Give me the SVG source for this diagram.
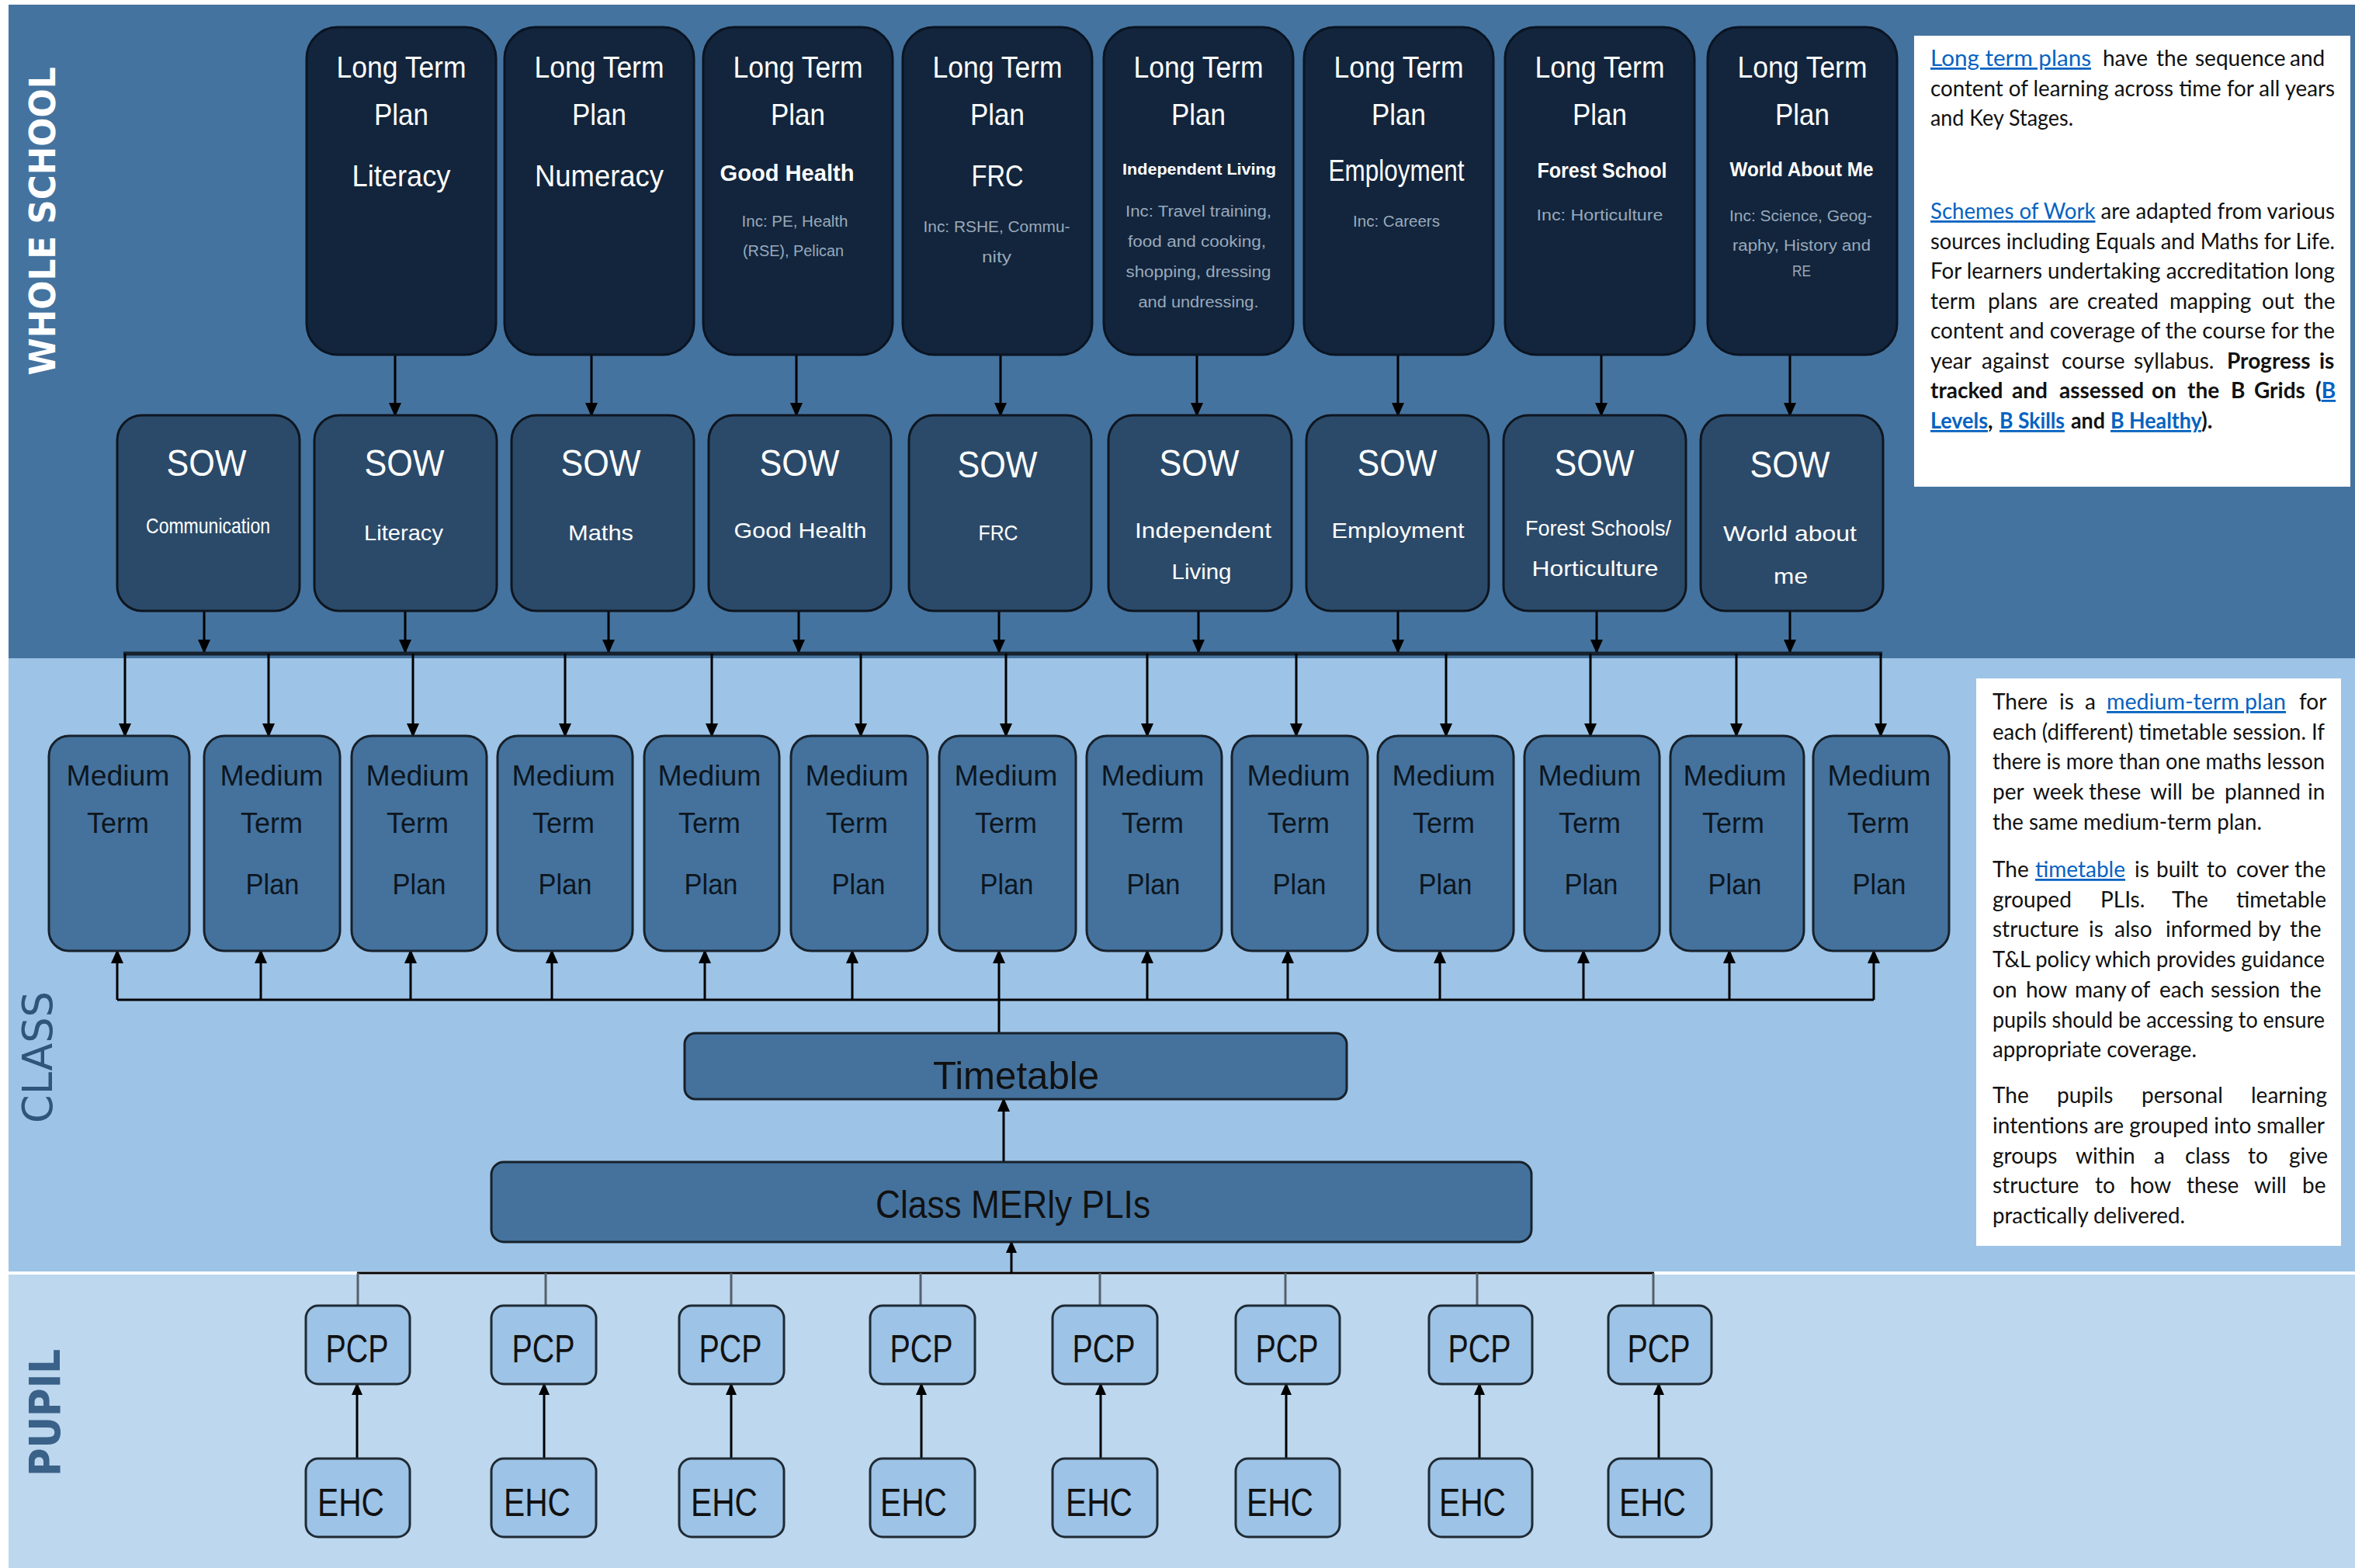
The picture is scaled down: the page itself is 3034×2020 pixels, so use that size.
<svg xmlns="http://www.w3.org/2000/svg" width="3034" height="2020" viewBox="0 0 3034 2020">
<defs>
<style>
text{font-family:"Liberation Sans",Arial,sans-serif}
.ltp rect{fill:#12253c;stroke:#0a1422;stroke-width:3}
.sow rect{fill:#2b4a69;stroke:#0e1620;stroke-width:3}
.mtp rect{fill:#44729d;stroke:#17212b;stroke-width:3}
.bar rect{fill:#44729d;stroke:#17212b;stroke-width:3}
.pp rect{fill:#9dc3e6;stroke:#1f2a33;stroke-width:3}
.h{font-size:39px;fill:#fff;text-anchor:middle}
.hb{font-weight:bold;fill:#fff;text-anchor:middle}
.inc{font-size:20px;fill:#9aa9bb;text-anchor:middle}
.sw{font-size:48px;fill:#fff;text-anchor:middle}
.ss{font-size:28px;fill:#fff;text-anchor:middle}
.mt{font-size:36px;fill:#0d1620;text-anchor:middle}
.big{font-size:50px;fill:#111;text-anchor:middle}
.p{font-family:Lato,"Liberation Sans",sans-serif;font-size:28px;fill:#111}
.lk{fill:#0563c1;text-decoration:underline}
.b{font-weight:bold}
.c line{stroke:#000;stroke-width:3}
.c .g{stroke:#55606a}
.c .bus{stroke:#15212d;stroke-width:5}
</style>
<marker id="ah" viewBox="0 0 18 16" refX="16" refY="8" markerWidth="18" markerHeight="16" markerUnits="userSpaceOnUse" orient="auto"><path d="M0,0 L18,8 L0,16 z" fill="#000"/></marker>
<marker id="as" viewBox="0 0 16 14" refX="14" refY="7" markerWidth="16" markerHeight="14" markerUnits="userSpaceOnUse" orient="auto"><path d="M0,0 L16,7 L0,14 z" fill="#000"/></marker>
</defs>

<rect x="0" y="0" width="3034" height="2020" fill="#fff"/>
<rect x="11" y="6" width="3023" height="842" fill="#45739f"/>
<rect x="11" y="848" width="3023" height="790" fill="#9dc3e6"/>
<rect x="11" y="1642" width="3023" height="378" fill="#bdd7ee"/>

<text transform="translate(71,285) rotate(-90)" text-anchor="middle" style="font-family:'DejaVu Sans',sans-serif" font-weight="bold" font-size="47" fill="#fff" textLength="397" lengthAdjust="spacingAndGlyphs">WHOLE SCHOOL</text>
<text transform="translate(67,1362) rotate(-90)" text-anchor="middle" style="font-family:'DejaVu Sans',sans-serif" font-size="53" fill="#2e557a" textLength="170" lengthAdjust="spacingAndGlyphs">CLASS</text>
<text transform="translate(77,1820) rotate(-90)" text-anchor="middle" style="font-family:'DejaVu Sans',sans-serif" font-weight="bold" font-size="56" fill="#3a6188" textLength="164" lengthAdjust="spacingAndGlyphs">PUPIL</text>

<g id="connectors" class="c">
<line x1="509" y1="457" x2="509" y2="535" marker-end="url(#ah)"/>
<line x1="762" y1="457" x2="762" y2="535" marker-end="url(#ah)"/>
<line x1="1026" y1="457" x2="1026" y2="535" marker-end="url(#ah)"/>
<line x1="1289" y1="457" x2="1289" y2="535" marker-end="url(#ah)"/>
<line x1="1542" y1="457" x2="1542" y2="535" marker-end="url(#ah)"/>
<line x1="1801" y1="457" x2="1801" y2="535" marker-end="url(#ah)"/>
<line x1="2063" y1="457" x2="2063" y2="535" marker-end="url(#ah)"/>
<line x1="2306" y1="457" x2="2306" y2="535" marker-end="url(#ah)"/>
<line x1="263" y1="787" x2="263" y2="840" marker-end="url(#ah)"/>
<line x1="522" y1="787" x2="522" y2="840" marker-end="url(#ah)"/>
<line x1="784" y1="787" x2="784" y2="840" marker-end="url(#ah)"/>
<line x1="1029" y1="787" x2="1029" y2="840" marker-end="url(#ah)"/>
<line x1="1287" y1="787" x2="1287" y2="840" marker-end="url(#ah)"/>
<line x1="1544" y1="787" x2="1544" y2="840" marker-end="url(#ah)"/>
<line x1="1801" y1="787" x2="1801" y2="840" marker-end="url(#ah)"/>
<line x1="2057" y1="787" x2="2057" y2="840" marker-end="url(#ah)"/>
<line x1="2306" y1="787" x2="2306" y2="840" marker-end="url(#ah)"/>
<line class="bus" x1="159" y1="842" x2="2425" y2="842"/>
<line x1="161" y1="842" x2="161" y2="948" marker-end="url(#ah)"/>
<line x1="346" y1="842" x2="346" y2="948" marker-end="url(#ah)"/>
<line x1="532" y1="842" x2="532" y2="948" marker-end="url(#ah)"/>
<line x1="728" y1="842" x2="728" y2="948" marker-end="url(#ah)"/>
<line x1="917" y1="842" x2="917" y2="948" marker-end="url(#ah)"/>
<line x1="1109" y1="842" x2="1109" y2="948" marker-end="url(#ah)"/>
<line x1="1296" y1="842" x2="1296" y2="948" marker-end="url(#ah)"/>
<line x1="1478" y1="842" x2="1478" y2="948" marker-end="url(#ah)"/>
<line x1="1670" y1="842" x2="1670" y2="948" marker-end="url(#ah)"/>
<line x1="1863" y1="842" x2="1863" y2="948" marker-end="url(#ah)"/>
<line x1="2049" y1="842" x2="2049" y2="948" marker-end="url(#ah)"/>
<line x1="2237" y1="842" x2="2237" y2="948" marker-end="url(#ah)"/>
<line x1="2423" y1="842" x2="2423" y2="948" marker-end="url(#ah)"/>
<line x1="151" y1="1288" x2="2414" y2="1288"/>
<line x1="151" y1="1288" x2="151" y2="1225" marker-end="url(#ah)"/>
<line x1="336" y1="1288" x2="336" y2="1225" marker-end="url(#ah)"/>
<line x1="529" y1="1288" x2="529" y2="1225" marker-end="url(#ah)"/>
<line x1="711" y1="1288" x2="711" y2="1225" marker-end="url(#ah)"/>
<line x1="908" y1="1288" x2="908" y2="1225" marker-end="url(#ah)"/>
<line x1="1098" y1="1288" x2="1098" y2="1225" marker-end="url(#ah)"/>
<line x1="1287" y1="1331" x2="1287" y2="1225" marker-end="url(#ah)"/>
<line x1="1478" y1="1288" x2="1478" y2="1225" marker-end="url(#ah)"/>
<line x1="1659" y1="1288" x2="1659" y2="1225" marker-end="url(#ah)"/>
<line x1="1855" y1="1288" x2="1855" y2="1225" marker-end="url(#ah)"/>
<line x1="2040" y1="1288" x2="2040" y2="1225" marker-end="url(#ah)"/>
<line x1="2228" y1="1288" x2="2228" y2="1225" marker-end="url(#ah)"/>
<line x1="2414" y1="1288" x2="2414" y2="1225" marker-end="url(#ah)"/>
<line x1="1293" y1="1497" x2="1293" y2="1416" marker-end="url(#ah)"/>
<line x1="460" y1="1640" x2="2131" y2="1640"/>
<line x1="1303" y1="1640" x2="1303" y2="1600" marker-end="url(#as)"/>
<line class="g" x1="461" y1="1640" x2="461" y2="1682"/>
<line class="g" x1="703" y1="1640" x2="703" y2="1682"/>
<line class="g" x1="942" y1="1640" x2="942" y2="1682"/>
<line class="g" x1="1186" y1="1640" x2="1186" y2="1682"/>
<line class="g" x1="1417" y1="1640" x2="1417" y2="1682"/>
<line class="g" x1="1656" y1="1640" x2="1656" y2="1682"/>
<line class="g" x1="1903" y1="1640" x2="1903" y2="1682"/>
<line class="g" x1="2130" y1="1640" x2="2130" y2="1682"/>
<line x1="460" y1="1879" x2="460" y2="1783" marker-end="url(#as)"/>
<line x1="701" y1="1879" x2="701" y2="1783" marker-end="url(#as)"/>
<line x1="942" y1="1879" x2="942" y2="1783" marker-end="url(#as)"/>
<line x1="1187" y1="1879" x2="1187" y2="1783" marker-end="url(#as)"/>
<line x1="1418" y1="1879" x2="1418" y2="1783" marker-end="url(#as)"/>
<line x1="1657" y1="1879" x2="1657" y2="1783" marker-end="url(#as)"/>
<line x1="1906" y1="1879" x2="1906" y2="1783" marker-end="url(#as)"/>
<line x1="2137" y1="1879" x2="2137" y2="1783" marker-end="url(#as)"/>
</g>

<g id="ltp-literacy" class="ltp"><rect x="395" y="35" width="244" height="422" rx="40"/>
<text class="h" x="517" y="100" textLength="167" lengthAdjust="spacingAndGlyphs">Long Term</text>
<text class="h" x="517" y="161" textLength="70" lengthAdjust="spacingAndGlyphs">Plan</text>
<text class="h" x="517" y="240" textLength="127" lengthAdjust="spacingAndGlyphs">Literacy</text></g>
<g id="ltp-numeracy" class="ltp"><rect x="650" y="35" width="244" height="422" rx="40"/>
<text class="h" x="772" y="100" textLength="167" lengthAdjust="spacingAndGlyphs">Long Term</text>
<text class="h" x="772" y="161" textLength="70" lengthAdjust="spacingAndGlyphs">Plan</text>
<text class="h" x="772" y="240" textLength="166" lengthAdjust="spacingAndGlyphs">Numeracy</text></g>
<g id="ltp-goodhealth" class="ltp"><rect x="906" y="35" width="244" height="422" rx="40"/>
<text class="h" x="1028" y="100" textLength="167" lengthAdjust="spacingAndGlyphs">Long Term</text>
<text class="h" x="1028" y="161" textLength="70" lengthAdjust="spacingAndGlyphs">Plan</text>
<text class="hb" font-size="29" x="1014" y="233" textLength="173" lengthAdjust="spacingAndGlyphs">Good Health</text>
<text class="inc" x="1024" y="292" textLength="137" lengthAdjust="spacingAndGlyphs">Inc: PE, Health</text>
<text class="inc" x="1022" y="330" textLength="130" lengthAdjust="spacingAndGlyphs">(RSE), Pelican</text></g>
<g id="ltp-frc" class="ltp"><rect x="1163" y="35" width="244" height="422" rx="40"/>
<text class="h" x="1285" y="100" textLength="167" lengthAdjust="spacingAndGlyphs">Long Term</text>
<text class="h" x="1285" y="161" textLength="70" lengthAdjust="spacingAndGlyphs">Plan</text>
<text class="h" x="1285" y="240" textLength="67" lengthAdjust="spacingAndGlyphs">FRC</text>
<text class="inc" x="1284" y="299" textLength="189" lengthAdjust="spacingAndGlyphs">Inc: RSHE, Commu-</text>
<text class="inc" x="1284" y="338" textLength="38" lengthAdjust="spacingAndGlyphs">nity</text></g>
<g id="ltp-independent" class="ltp"><rect x="1422" y="35" width="244" height="422" rx="40"/>
<text class="h" x="1544" y="100" textLength="167" lengthAdjust="spacingAndGlyphs">Long Term</text>
<text class="h" x="1544" y="161" textLength="70" lengthAdjust="spacingAndGlyphs">Plan</text>
<text class="hb" font-size="21" x="1545" y="225" textLength="198" lengthAdjust="spacingAndGlyphs">Independent Living</text>
<text class="inc" x="1544" y="279" textLength="188" lengthAdjust="spacingAndGlyphs">Inc: Travel training,</text>
<text class="inc" x="1542" y="318" textLength="178" lengthAdjust="spacingAndGlyphs">food and cooking,</text>
<text class="inc" x="1544" y="357" textLength="187" lengthAdjust="spacingAndGlyphs">shopping, dressing</text>
<text class="inc" x="1544" y="396" textLength="155" lengthAdjust="spacingAndGlyphs">and undressing.</text></g>
<g id="ltp-employment" class="ltp"><rect x="1680" y="35" width="244" height="422" rx="40"/>
<text class="h" x="1802" y="100" textLength="167" lengthAdjust="spacingAndGlyphs">Long Term</text>
<text class="h" x="1802" y="161" textLength="70" lengthAdjust="spacingAndGlyphs">Plan</text>
<text class="h" font-size="30" x="1799" y="233" textLength="175" lengthAdjust="spacingAndGlyphs">Employment</text>
<text class="inc" x="1799" y="292" textLength="112" lengthAdjust="spacingAndGlyphs">Inc: Careers</text></g>
<g id="ltp-forest" class="ltp"><rect x="1939" y="35" width="244" height="422" rx="40"/>
<text class="h" x="2061" y="100" textLength="167" lengthAdjust="spacingAndGlyphs">Long Term</text>
<text class="h" x="2061" y="161" textLength="70" lengthAdjust="spacingAndGlyphs">Plan</text>
<text class="hb" font-size="27" x="2064" y="229" textLength="167" lengthAdjust="spacingAndGlyphs">Forest School</text>
<text class="inc" x="2061" y="284" textLength="163" lengthAdjust="spacingAndGlyphs">Inc: Horticulture</text></g>
<g id="ltp-world" class="ltp"><rect x="2200" y="35" width="244" height="422" rx="40"/>
<text class="h" x="2322" y="100" textLength="167" lengthAdjust="spacingAndGlyphs">Long Term</text>
<text class="h" x="2322" y="161" textLength="70" lengthAdjust="spacingAndGlyphs">Plan</text>
<text class="hb" font-size="26" x="2321" y="227" textLength="185" lengthAdjust="spacingAndGlyphs">World About Me</text>
<text class="inc" x="2320" y="285" textLength="184" lengthAdjust="spacingAndGlyphs">Inc: Science, Geog-</text>
<text class="inc" x="2321" y="323" textLength="178" lengthAdjust="spacingAndGlyphs">raphy, History and</text>
<text class="inc" x="2321" y="356" textLength="24" lengthAdjust="spacingAndGlyphs">RE</text></g>

<g id="sow-communication" class="sow"><rect x="151" y="535" width="235" height="252" rx="32"/>
<text class="sw" x="266" y="613" textLength="103" lengthAdjust="spacingAndGlyphs">SOW</text>
<text class="ss" font-size="17" x="268" y="687" textLength="160" lengthAdjust="spacingAndGlyphs">Communication</text></g>
<g id="sow-literacy" class="sow"><rect x="405" y="535" width="235" height="252" rx="32"/>
<text class="sw" x="521" y="613" textLength="103" lengthAdjust="spacingAndGlyphs">SOW</text>
<text class="ss" x="520" y="696" textLength="102" lengthAdjust="spacingAndGlyphs">Literacy</text></g>
<g id="sow-maths" class="sow"><rect x="659" y="535" width="235" height="252" rx="32"/>
<text class="sw" x="774" y="613" textLength="103" lengthAdjust="spacingAndGlyphs">SOW</text>
<text class="ss" x="774" y="696" textLength="84" lengthAdjust="spacingAndGlyphs">Maths</text></g>
<g id="sow-goodhealth" class="sow"><rect x="913" y="535" width="235" height="252" rx="32"/>
<text class="sw" x="1030" y="613" textLength="103" lengthAdjust="spacingAndGlyphs">SOW</text>
<text class="ss" x="1031" y="693" textLength="171" lengthAdjust="spacingAndGlyphs">Good Health</text></g>
<g id="sow-frc" class="sow"><rect x="1171" y="535" width="235" height="252" rx="32"/>
<text class="sw" x="1285" y="615" textLength="103" lengthAdjust="spacingAndGlyphs">SOW</text>
<text class="ss" font-size="24" x="1286" y="696" textLength="51" lengthAdjust="spacingAndGlyphs">FRC</text></g>
<g id="sow-independent" class="sow"><rect x="1428" y="535" width="236" height="252" rx="32"/>
<text class="sw" x="1545" y="613" textLength="103" lengthAdjust="spacingAndGlyphs">SOW</text>
<text class="ss" x="1550" y="693" textLength="176" lengthAdjust="spacingAndGlyphs">Independent</text>
<text class="ss" x="1548" y="746" textLength="77" lengthAdjust="spacingAndGlyphs">Living</text></g>
<g id="sow-employment" class="sow"><rect x="1683" y="535" width="235" height="252" rx="32"/>
<text class="sw" x="1800" y="613" textLength="103" lengthAdjust="spacingAndGlyphs">SOW</text>
<text class="ss" x="1801" y="693" textLength="171" lengthAdjust="spacingAndGlyphs">Employment</text></g>
<g id="sow-forest" class="sow"><rect x="1937" y="535" width="235" height="252" rx="32"/>
<text class="sw" x="2054" y="613" textLength="103" lengthAdjust="spacingAndGlyphs">SOW</text>
<text class="ss" font-size="26" x="2059" y="690" textLength="188" lengthAdjust="spacingAndGlyphs">Forest Schools/</text>
<text class="ss" x="2055" y="742" textLength="163" lengthAdjust="spacingAndGlyphs">Horticulture</text></g>
<g id="sow-world" class="sow"><rect x="2191" y="535" width="235" height="252" rx="32"/>
<text class="sw" x="2306" y="615" textLength="103" lengthAdjust="spacingAndGlyphs">SOW</text>
<text class="ss" x="2306" y="697" textLength="172" lengthAdjust="spacingAndGlyphs">World about</text>
<text class="ss" x="2307" y="752" textLength="44" lengthAdjust="spacingAndGlyphs">me</text></g>

<g id="mtp-1" class="mtp"><rect x="63" y="948" width="181" height="277" rx="26"/>
<text class="mt" x="152" y="1012" textLength="133" lengthAdjust="spacingAndGlyphs">Medium</text>
<text class="mt" x="152" y="1073" textLength="80" lengthAdjust="spacingAndGlyphs">Term</text></g>
<g id="mtp-2" class="mtp"><rect x="263" y="948" width="175" height="277" rx="26"/>
<text class="mt" x="350" y="1012" textLength="133" lengthAdjust="spacingAndGlyphs">Medium</text>
<text class="mt" x="350" y="1073" textLength="80" lengthAdjust="spacingAndGlyphs">Term</text>
<text class="mt" x="351" y="1152" textLength="69" lengthAdjust="spacingAndGlyphs">Plan</text></g>
<g id="mtp-3" class="mtp"><rect x="453" y="948" width="174" height="277" rx="26"/>
<text class="mt" x="538" y="1012" textLength="133" lengthAdjust="spacingAndGlyphs">Medium</text>
<text class="mt" x="538" y="1073" textLength="80" lengthAdjust="spacingAndGlyphs">Term</text>
<text class="mt" x="540" y="1152" textLength="69" lengthAdjust="spacingAndGlyphs">Plan</text></g>
<g id="mtp-4" class="mtp"><rect x="641" y="948" width="174" height="277" rx="26"/>
<text class="mt" x="726" y="1012" textLength="133" lengthAdjust="spacingAndGlyphs">Medium</text>
<text class="mt" x="726" y="1073" textLength="80" lengthAdjust="spacingAndGlyphs">Term</text>
<text class="mt" x="728" y="1152" textLength="69" lengthAdjust="spacingAndGlyphs">Plan</text></g>
<g id="mtp-5" class="mtp"><rect x="830" y="948" width="174" height="277" rx="26"/>
<text class="mt" x="914" y="1012" textLength="133" lengthAdjust="spacingAndGlyphs">Medium</text>
<text class="mt" x="914" y="1073" textLength="80" lengthAdjust="spacingAndGlyphs">Term</text>
<text class="mt" x="916" y="1152" textLength="69" lengthAdjust="spacingAndGlyphs">Plan</text></g>
<g id="mtp-6" class="mtp"><rect x="1019" y="948" width="176" height="277" rx="26"/>
<text class="mt" x="1104" y="1012" textLength="133" lengthAdjust="spacingAndGlyphs">Medium</text>
<text class="mt" x="1104" y="1073" textLength="80" lengthAdjust="spacingAndGlyphs">Term</text>
<text class="mt" x="1106" y="1152" textLength="69" lengthAdjust="spacingAndGlyphs">Plan</text></g>
<g id="mtp-7" class="mtp"><rect x="1210" y="948" width="176" height="277" rx="26"/>
<text class="mt" x="1296" y="1012" textLength="133" lengthAdjust="spacingAndGlyphs">Medium</text>
<text class="mt" x="1296" y="1073" textLength="80" lengthAdjust="spacingAndGlyphs">Term</text>
<text class="mt" x="1297" y="1152" textLength="69" lengthAdjust="spacingAndGlyphs">Plan</text></g>
<g id="mtp-8" class="mtp"><rect x="1400" y="948" width="174" height="277" rx="26"/>
<text class="mt" x="1485" y="1012" textLength="133" lengthAdjust="spacingAndGlyphs">Medium</text>
<text class="mt" x="1485" y="1073" textLength="80" lengthAdjust="spacingAndGlyphs">Term</text>
<text class="mt" x="1486" y="1152" textLength="69" lengthAdjust="spacingAndGlyphs">Plan</text></g>
<g id="mtp-9" class="mtp"><rect x="1587" y="948" width="175" height="277" rx="26"/>
<text class="mt" x="1673" y="1012" textLength="133" lengthAdjust="spacingAndGlyphs">Medium</text>
<text class="mt" x="1673" y="1073" textLength="80" lengthAdjust="spacingAndGlyphs">Term</text>
<text class="mt" x="1674" y="1152" textLength="69" lengthAdjust="spacingAndGlyphs">Plan</text></g>
<g id="mtp-10" class="mtp"><rect x="1775" y="948" width="175" height="277" rx="26"/>
<text class="mt" x="1860" y="1012" textLength="133" lengthAdjust="spacingAndGlyphs">Medium</text>
<text class="mt" x="1860" y="1073" textLength="80" lengthAdjust="spacingAndGlyphs">Term</text>
<text class="mt" x="1862" y="1152" textLength="69" lengthAdjust="spacingAndGlyphs">Plan</text></g>
<g id="mtp-11" class="mtp"><rect x="1964" y="948" width="174" height="277" rx="26"/>
<text class="mt" x="2048" y="1012" textLength="133" lengthAdjust="spacingAndGlyphs">Medium</text>
<text class="mt" x="2048" y="1073" textLength="80" lengthAdjust="spacingAndGlyphs">Term</text>
<text class="mt" x="2050" y="1152" textLength="69" lengthAdjust="spacingAndGlyphs">Plan</text></g>
<g id="mtp-12" class="mtp"><rect x="2152" y="948" width="172" height="277" rx="26"/>
<text class="mt" x="2235" y="1012" textLength="133" lengthAdjust="spacingAndGlyphs">Medium</text>
<text class="mt" x="2233" y="1073" textLength="80" lengthAdjust="spacingAndGlyphs">Term</text>
<text class="mt" x="2235" y="1152" textLength="69" lengthAdjust="spacingAndGlyphs">Plan</text></g>
<g id="mtp-13" class="mtp"><rect x="2336" y="948" width="175" height="277" rx="26"/>
<text class="mt" x="2421" y="1012" textLength="133" lengthAdjust="spacingAndGlyphs">Medium</text>
<text class="mt" x="2420" y="1073" textLength="80" lengthAdjust="spacingAndGlyphs">Term</text>
<text class="mt" x="2421" y="1152" textLength="69" lengthAdjust="spacingAndGlyphs">Plan</text></g>

<g id="timetable" class="bar"><rect x="882" y="1331" width="853" height="85" rx="14"/>
<text class="big" x="1309" y="1403" textLength="214" lengthAdjust="spacingAndGlyphs">Timetable</text></g>
<g id="class-plis" class="bar"><rect x="633" y="1497" width="1340" height="103" rx="16"/>
<text class="big" x="1305" y="1569" textLength="354" lengthAdjust="spacingAndGlyphs">Class MERly PLIs</text></g>

<g id="pcp-1" class="pp"><rect x="394" y="1682" width="134" height="101" rx="16"/><text class="big" x="460" y="1755" textLength="81" lengthAdjust="spacingAndGlyphs">PCP</text></g>
<g id="pcp-2" class="pp"><rect x="633" y="1682" width="135" height="101" rx="16"/><text class="big" x="700" y="1755" textLength="81" lengthAdjust="spacingAndGlyphs">PCP</text></g>
<g id="pcp-3" class="pp"><rect x="875" y="1682" width="135" height="101" rx="16"/><text class="big" x="941" y="1755" textLength="81" lengthAdjust="spacingAndGlyphs">PCP</text></g>
<g id="pcp-4" class="pp"><rect x="1121" y="1682" width="135" height="101" rx="16"/><text class="big" x="1187" y="1755" textLength="81" lengthAdjust="spacingAndGlyphs">PCP</text></g>
<g id="pcp-5" class="pp"><rect x="1356" y="1682" width="135" height="101" rx="16"/><text class="big" x="1422" y="1755" textLength="81" lengthAdjust="spacingAndGlyphs">PCP</text></g>
<g id="pcp-6" class="pp"><rect x="1592" y="1682" width="134" height="101" rx="16"/><text class="big" x="1658" y="1755" textLength="81" lengthAdjust="spacingAndGlyphs">PCP</text></g>
<g id="pcp-7" class="pp"><rect x="1841" y="1682" width="133" height="101" rx="16"/><text class="big" x="1906" y="1755" textLength="81" lengthAdjust="spacingAndGlyphs">PCP</text></g>
<g id="pcp-8" class="pp"><rect x="2072" y="1682" width="133" height="101" rx="16"/><text class="big" x="2137" y="1755" textLength="81" lengthAdjust="spacingAndGlyphs">PCP</text></g>

<g id="ehc-1" class="pp"><rect x="394" y="1879" width="134" height="101" rx="16"/><text class="big" style="text-anchor:start" x="409" y="1953" textLength="86" lengthAdjust="spacingAndGlyphs">EHC</text></g>
<g id="ehc-2" class="pp"><rect x="633" y="1879" width="135" height="101" rx="16"/><text class="big" style="text-anchor:start" x="649" y="1953" textLength="86" lengthAdjust="spacingAndGlyphs">EHC</text></g>
<g id="ehc-3" class="pp"><rect x="875" y="1879" width="135" height="101" rx="16"/><text class="big" style="text-anchor:start" x="890" y="1953" textLength="86" lengthAdjust="spacingAndGlyphs">EHC</text></g>
<g id="ehc-4" class="pp"><rect x="1121" y="1879" width="135" height="101" rx="16"/><text class="big" style="text-anchor:start" x="1134" y="1953" textLength="86" lengthAdjust="spacingAndGlyphs">EHC</text></g>
<g id="ehc-5" class="pp"><rect x="1356" y="1879" width="135" height="101" rx="16"/><text class="big" style="text-anchor:start" x="1373" y="1953" textLength="86" lengthAdjust="spacingAndGlyphs">EHC</text></g>
<g id="ehc-6" class="pp"><rect x="1592" y="1879" width="134" height="101" rx="16"/><text class="big" style="text-anchor:start" x="1606" y="1953" textLength="86" lengthAdjust="spacingAndGlyphs">EHC</text></g>
<g id="ehc-7" class="pp"><rect x="1841" y="1879" width="133" height="101" rx="16"/><text class="big" style="text-anchor:start" x="1854" y="1953" textLength="86" lengthAdjust="spacingAndGlyphs">EHC</text></g>
<g id="ehc-8" class="pp"><rect x="2072" y="1879" width="133" height="101" rx="16"/><text class="big" style="text-anchor:start" x="2086" y="1953" textLength="86" lengthAdjust="spacingAndGlyphs">EHC</text></g>

<g id="note-long-term">
<rect x="2466" y="46" width="562" height="581" fill="#fff"/>
<text class="p" y="85"><tspan x="2487" class="lk" textLength="207" lengthAdjust="spacingAndGlyphs">Long term plans</tspan><tspan x="2709">have</tspan><tspan x="2778">the</tspan><tspan x="2828">sequence</tspan><tspan x="2950">and</tspan></text>
<text class="p" x="2487" y="124" textLength="521" lengthAdjust="spacingAndGlyphs">content of learning across time for all years</text>
<text class="p" x="2487" y="162" textLength="184" lengthAdjust="spacingAndGlyphs">and Key Stages.</text>
<text class="p" x="2487" y="282" textLength="521" lengthAdjust="spacingAndGlyphs"><tspan class="lk">Schemes of Work</tspan> are adapted from various</text>
<text class="p" x="2487" y="321" textLength="521" lengthAdjust="spacingAndGlyphs">sources including Equals and Maths for Life.</text>
<text class="p" x="2487" y="359" textLength="521" lengthAdjust="spacingAndGlyphs">For learners undertaking accreditation long</text>
<text class="p" y="398"><tspan x="2487">term</tspan><tspan x="2561">plans</tspan><tspan x="2640">are</tspan><tspan x="2689">created</tspan><tspan x="2795">mapping</tspan><tspan x="2914">out</tspan><tspan x="2968">the</tspan></text>
<text class="p" x="2487" y="436" textLength="521" lengthAdjust="spacingAndGlyphs">content and coverage of the course for the</text>
<text class="p" y="475"><tspan x="2487">year</tspan><tspan x="2553">against</tspan><tspan x="2656">course</tspan><tspan x="2749">syllabus.</tspan><tspan x="2869" class="b">Progress</tspan><tspan x="2988" class="b">is</tspan></text>
<text class="p b" y="513"><tspan x="2487">tracked</tspan><tspan x="2592">and</tspan><tspan x="2653">assessed</tspan><tspan x="2772">on</tspan><tspan x="2818">the</tspan><tspan x="2874">B</tspan><tspan x="2904">Grids</tspan><tspan x="2983">(</tspan><tspan class="lk">B</tspan></text>
<text class="p b" y="552"><tspan x="2487" class="lk" textLength="74" lengthAdjust="spacingAndGlyphs">Levels</tspan><tspan>,</tspan><tspan x="2576" class="lk" textLength="84" lengthAdjust="spacingAndGlyphs">B Skills</tspan><tspan x="2668" textLength="44" lengthAdjust="spacingAndGlyphs">and</tspan><tspan x="2719" class="lk" textLength="117" lengthAdjust="spacingAndGlyphs">B Healthy</tspan><tspan>).</tspan></text>
</g>

<g id="note-medium-term">
<rect x="2546" y="874" width="470" height="731" fill="#fff"/>
<text class="p" y="914"><tspan x="2567">There</tspan><tspan x="2653">is</tspan><tspan x="2686">a</tspan><tspan x="2714" class="lk" textLength="231" lengthAdjust="spacingAndGlyphs">medium-term plan</tspan><tspan x="2962">for</tspan></text>
<text class="p" x="2567" y="953" textLength="428" lengthAdjust="spacingAndGlyphs">each (different) timetable session. If</text>
<text class="p" x="2567" y="991" textLength="428" lengthAdjust="spacingAndGlyphs">there is more than one maths lesson</text>
<text class="p" y="1030"><tspan x="2567">per</tspan><tspan x="2619">week</tspan><tspan x="2691">these</tspan><tspan x="2770">will</tspan><tspan x="2823">be</tspan><tspan x="2866">planned</tspan><tspan x="2973">in</tspan></text>
<text class="p" x="2567" y="1069" textLength="347" lengthAdjust="spacingAndGlyphs">the same medium-term plan.</text>
<text class="p" y="1130"><tspan x="2567">The</tspan><tspan x="2622" class="lk">timetable</tspan><tspan x="2750">is</tspan><tspan x="2778">built</tspan><tspan x="2843">to</tspan><tspan x="2881">cover</tspan><tspan x="2956">the</tspan></text>
<text class="p" y="1169"><tspan x="2567">grouped</tspan><tspan x="2706">PLIs.</tspan><tspan x="2798">The</tspan><tspan x="2881">timetable</tspan></text>
<text class="p" y="1207"><tspan x="2567">structure</tspan><tspan x="2691">is</tspan><tspan x="2724">also</tspan><tspan x="2790">informed</tspan><tspan x="2909">by</tspan><tspan x="2950">the</tspan></text>
<text class="p" x="2567" y="1246" textLength="428" lengthAdjust="spacingAndGlyphs">T&amp;L policy which provides guidance</text>
<text class="p" y="1285"><tspan x="2567">on</tspan><tspan x="2610">how</tspan><tspan x="2673">many</tspan><tspan x="2745">of</tspan><tspan x="2782">each</tspan><tspan x="2848">session</tspan><tspan x="2950">the</tspan></text>
<text class="p" x="2567" y="1324" textLength="428" lengthAdjust="spacingAndGlyphs">pupils should be accessing to ensure</text>
<text class="p" x="2567" y="1362" textLength="263" lengthAdjust="spacingAndGlyphs">appropriate coverage.</text>
<text class="p" y="1421"><tspan x="2567">The</tspan><tspan x="2650">pupils</tspan><tspan x="2759">personal</tspan><tspan x="2900">learning</tspan></text>
<text class="p" x="2567" y="1460" textLength="428" lengthAdjust="spacingAndGlyphs">intentions are grouped into smaller</text>
<text class="p" y="1499"><tspan x="2567">groups</tspan><tspan x="2674">within</tspan><tspan x="2775">a</tspan><tspan x="2815">class</tspan><tspan x="2896">to</tspan><tspan x="2949">give</tspan></text>
<text class="p" y="1537"><tspan x="2567">structure</tspan><tspan x="2699">to</tspan><tspan x="2744">how</tspan><tspan x="2817">these</tspan><tspan x="2904">will</tspan><tspan x="2966">be</tspan></text>
<text class="p" x="2567" y="1576" textLength="248" lengthAdjust="spacingAndGlyphs">practically delivered.</text>
</g>
</svg>
